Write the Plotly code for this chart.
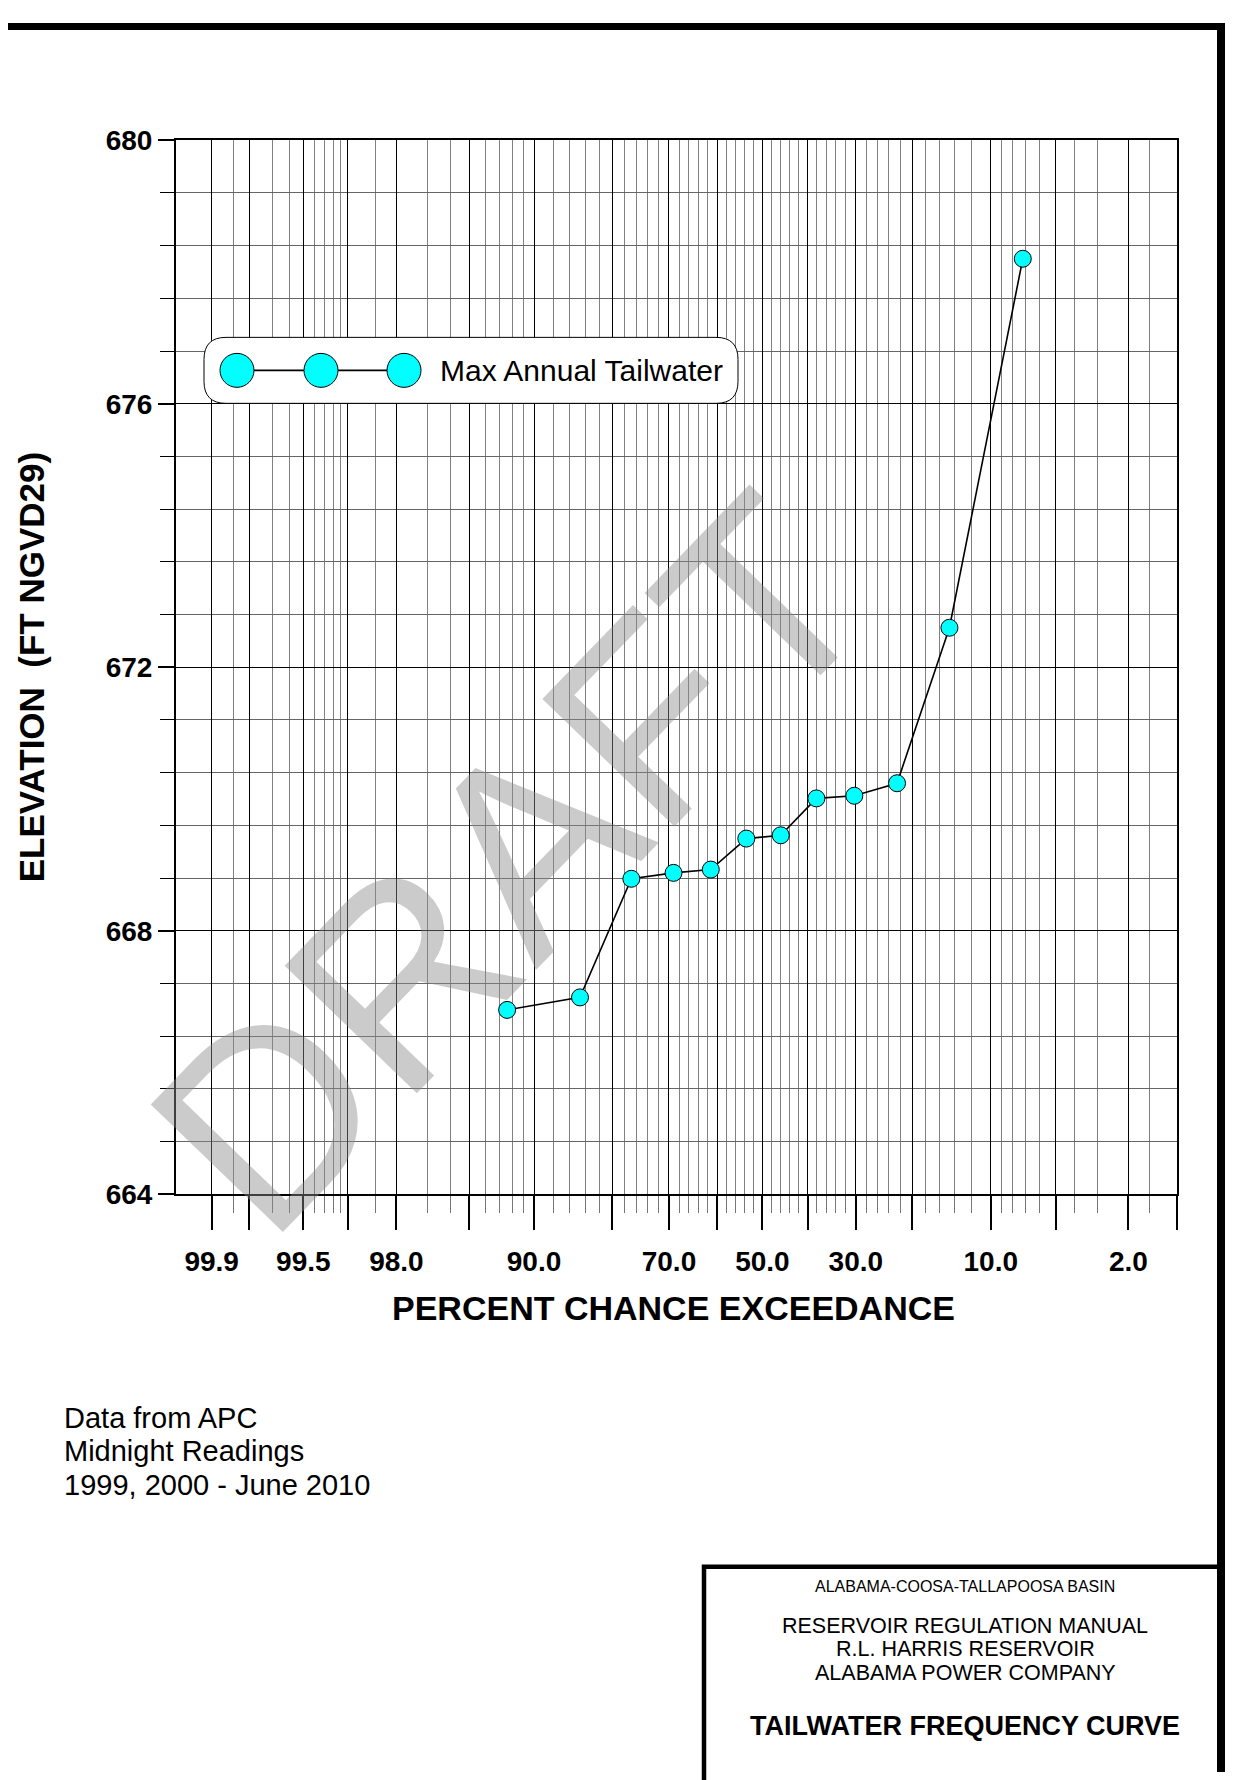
import plotly.graph_objects as go
from statistics import NormalDist

W, H = 1233, 1780

# data
exceed_pct = [92.4, 84.7, 76.9, 69.1, 61.4, 53.6, 45.9, 38.1, 30.3, 22.5, 14.7, 7.2]
elev_ft = [666.80, 666.99, 668.79, 668.88, 668.93, 669.40, 669.45, 670.01, 670.05, 670.24, 672.60, 678.20]

major_pct = [99.9, 99.8, 99.5, 99, 98, 95, 90, 80, 70, 60, 50, 40, 30, 20, 10, 5, 2, 1]
minor_pct = [99.85, 99.7, 99.6, 99.4, 99.3, 99.2, 99.1, 98.5, 97, 96, 94, 93, 92, 91,
             88, 86, 84, 82, 78, 76, 74, 72, 68, 66, 64, 62, 58, 56, 54, 52,
             48, 46, 44, 42, 38, 36, 34, 32, 28, 26, 24, 22, 18, 16, 14, 12,
             9, 8, 7, 6, 4, 3, 1.5]
label_pct = [99.9, 99.5, 98.0, 90.0, 70.0, 50.0, 30.0, 10.0, 2.0]

y_labels = [664, 668, 672, 676, 680]

FONT = "Liberation Sans, Arial, sans-serif"
nd = NormalDist()

# the page puts the figure a little right and down, and squeezes it a bit in height
OFF_X, OFF_Y, SQ_Y = 8, 22.5, 0.983


def prob(p):
    # normal probability scale, high exceedance on the left
    return nd.inv_cdf(1 - p / 100.0)


def px(x):
    return (x - OFF_X) / W


def py(y):
    return 1 - ((y - OFF_Y) / SQ_Y) / H


fig = go.Figure()

fig.add_trace(go.Scatter(
    x=[prob(p) for p in exceed_pct], y=elev_ft,
    mode="lines+markers",
    line=dict(color="black", width=1.6),
    marker=dict(size=17, color="#00FFFF", line=dict(color="black", width=1)),
    name="Max Annual Tailwater",
    showlegend=False,
))

tick_text = []
for p in major_pct:
    hit = [l for l in label_pct if abs(l - p) < 1e-9]
    tick_text.append(f"{hit[0]:.1f}" if hit else "")

fig.update_xaxes(
    domain=[px(176), px(1177)],
    range=[prob(99.95), prob(1)],
    tickmode="array",
    tickvals=[prob(p) for p in major_pct],
    ticktext=tick_text,
    ticks="outside", ticklen=34, tickwidth=1.5, tickcolor="black",
    ticklabelstandoff=7,
    tickfont=dict(family=FONT, size=28, color="black", weight="bold"),
    showgrid=True, gridcolor="black", gridwidth=1,
    minor=dict(tickmode="array", tickvals=[prob(p) for p in minor_pct],
               ticks="outside", ticklen=17, tickcolor="#777", tickwidth=1.2,
               showgrid=True, gridcolor="#808080", gridwidth=1),
    showline=True, linecolor="black", linewidth=2, mirror=True,
    zeroline=False,
)

fig.update_yaxes(
    domain=[py(1194.4), py(139.7)],
    range=[664, 680],
    tickmode="array",
    tickvals=y_labels,
    ticktext=[str(v) for v in y_labels],
    ticks="outside", ticklen=16, tickwidth=1.5, tickcolor="black",
    tickfont=dict(family=FONT, size=28, color="black", weight="bold"),
    showgrid=True, gridcolor="black", gridwidth=1,
    minor=dict(tick0=664, dtick=0.8, ticks="outside", ticklen=14,
               tickcolor="black", tickwidth=1.2,
               showgrid=True, gridcolor="#666", gridwidth=1),
    showline=True, linecolor="black", linewidth=2, mirror=True,
    zeroline=False,
)

shapes = []
# page border (top and right) and title block
shapes.append(dict(type="rect", xref="paper", yref="paper",
                   x0=0, x1=1, y0=1 - 7 / H, y1=1,
                   fillcolor="black", line=dict(width=0)))
shapes.append(dict(type="rect", xref="paper", yref="paper",
                   x0=px(1217), x1=px(1226), y0=0, y1=1,
                   fillcolor="black", line=dict(width=0)))
shapes.append(dict(type="rect", xref="paper", yref="paper",
                   x0=px(704), x1=px(1240), y0=py(1820), y1=py(1567),
                   line=dict(color="black", width=4.5)))

# hand drawn legend: rounded box with three markers
lx0, lx1, ly0, ly1, r = 204, 738, 337, 403, 22
path = (f"M {px(lx0 + r)},{py(ly0)} L {px(lx1 - r)},{py(ly0)} "
        f"Q {px(lx1)},{py(ly0)} {px(lx1)},{py(ly0 + r)} "
        f"L {px(lx1)},{py(ly1 - r)} Q {px(lx1)},{py(ly1)} {px(lx1 - r)},{py(ly1)} "
        f"L {px(lx0 + r)},{py(ly1)} Q {px(lx0)},{py(ly1)} {px(lx0)},{py(ly1 - r)} "
        f"L {px(lx0)},{py(ly0 + r)} Q {px(lx0)},{py(ly0)} {px(lx0 + r)},{py(ly0)} Z")
shapes.append(dict(type="path", xref="paper", yref="paper", path=path,
                   fillcolor="white", line=dict(color="black", width=1)))
leg_y = 370
leg_cx = [237, 321, 404]
shapes.append(dict(type="line", xref="paper", yref="paper",
                   x0=px(leg_cx[0]), x1=px(leg_cx[-1]), y0=py(leg_y), y1=py(leg_y),
                   line=dict(color="black", width=1.6)))
for cx in leg_cx:
    shapes.append(dict(type="circle", xref="paper", yref="paper",
                       x0=px(cx - 17), x1=px(cx + 17), y0=py(leg_y + 17), y1=py(leg_y - 17),
                       fillcolor="#00FFFF", line=dict(color="black", width=1)))


def note(text, x, y, size, weight="normal", xanchor="center", angle=0):
    return dict(text=text, x=px(x), y=py(y), xref="paper", yref="paper",
                xanchor=xanchor, yanchor="middle", showarrow=False, textangle=angle,
                font=dict(family=FONT, size=size, color="black", weight=weight))


annotations = [
    dict(text="DRAFT", x=px(510), y=py(863), xref="paper", yref="paper",
         xanchor="center", yanchor="middle", showarrow=False, textangle=-46,
         font=dict(family=FONT, size=267, color="rgba(140,140,140,0.45)")),
    note("Max Annual Tailwater", 438, leg_y, 30, xanchor="left"),
    note("PERCENT CHANCE EXCEEDANCE", 673, 1308, 34, "bold"),
    note("ELEVATION  (FT NGVD29)", 31, 667, 35, "bold", angle=-90),
]

for txt, yy in [("Data from APC", 1418), ("Midnight Readings", 1451),
                ("1999, 2000 - June 2010", 1485)]:
    annotations.append(note(txt, 62, yy, 29, xanchor="left"))

for txt, yy, sz, wt in [("ALABAMA-COOSA-TALLAPOOSA BASIN", 1587, 16, "normal"),
                        ("RESERVOIR REGULATION MANUAL", 1626, 21.5, "normal"),
                        ("R.L. HARRIS RESERVOIR", 1649, 21.5, "normal"),
                        ("ALABAMA POWER COMPANY", 1673, 21.5, "normal"),
                        ("TAILWATER FREQUENCY CURVE", 1726, 27, "bold")]:
    annotations.append(note(txt, 965, yy, sz, wt))

fig.update_layout(
    width=W, height=H,
    margin=dict(l=0, r=0, t=0, b=0),
    paper_bgcolor="white", plot_bgcolor="white",
    shapes=shapes, annotations=annotations,
    showlegend=False,
    font=dict(family=FONT, color="black"),
)

fig.write_html("out.html")
